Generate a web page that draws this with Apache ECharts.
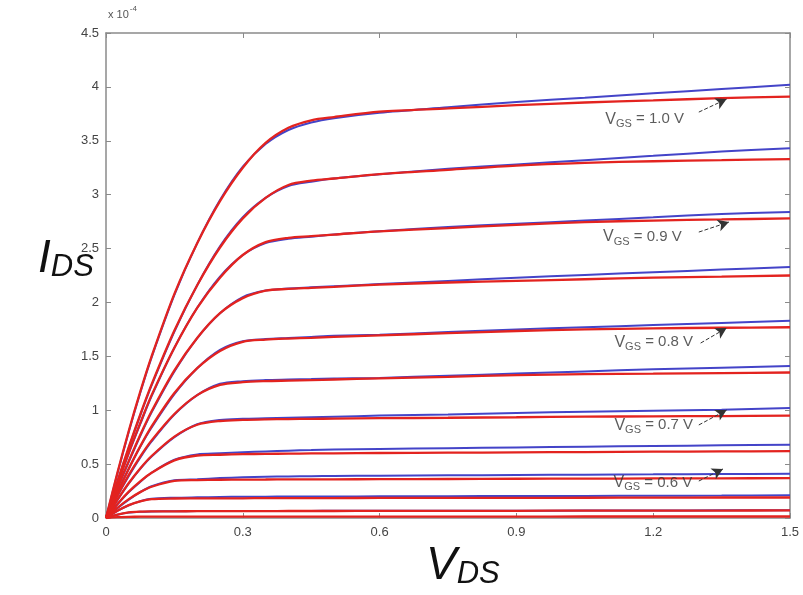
<!DOCTYPE html>
<html>
<head>
<meta charset="utf-8">
<script src="https://cdn.jsdelivr.net/npm/echarts@6/dist/echarts.min.js"></script>
<style>
  html, body { margin: 0; padding: 0; background: #fff; }
  #chart { width: 803px; height: 595px; }
</style>
</head>
<body>
<div id="chart"></div>
<script>
// V_DS sample points (V)
const vds = [0, 0.025, 0.05, 0.075, 0.1, 0.15, 0.2, 0.25, 0.3, 0.35, 0.4, 0.45, 0.5, 0.6, 0.75, 0.9, 1.05, 1.2, 1.35, 1.5]

// model curves (red), I_DS in units of 1e-4 A, top curve first
const sim1 = [0, 0.42, 0.81, 1.17, 1.50, 2.08, 2.55, 2.94, 3.25, 3.48, 3.62, 3.69, 3.72, 3.77, 3.80, 3.83, 3.855, 3.875, 3.895, 3.91]
const sim2 = [0, 0.34, 0.66, 0.96, 1.24, 1.74, 2.16, 2.51, 2.78, 2.97, 3.09, 3.13, 3.15, 3.19, 3.23, 3.27, 3.295, 3.31, 3.32, 3.33]
const sim3 = [0, 0.315, 0.61, 0.88, 1.14, 1.58, 1.95, 2.23, 2.44, 2.56, 2.60, 2.615, 2.63, 2.66, 2.69, 2.72, 2.745, 2.76, 2.77, 2.78]
const sim4 = [0, 0.28, 0.53, 0.77, 0.99, 1.37, 1.67, 1.90, 2.04, 2.11, 2.125, 2.135, 2.145, 2.165, 2.185, 2.20, 2.215, 2.23, 2.24, 2.25]
const sim5 = [0, 0.24, 0.46, 0.665, 0.85, 1.16, 1.39, 1.55, 1.635, 1.655, 1.665, 1.672, 1.68, 1.695, 1.715, 1.735, 1.75, 1.76, 1.765, 1.77]
const sim6 = [0, 0.21, 0.40, 0.57, 0.72, 0.965, 1.14, 1.235, 1.26, 1.27, 1.275, 1.28, 1.285, 1.295, 1.31, 1.325, 1.335, 1.34, 1.345, 1.35]
const sim7 = [0, 0.17, 0.325, 0.46, 0.575, 0.755, 0.865, 0.90, 0.91, 0.915, 0.918, 0.92, 0.922, 0.926, 0.93, 0.935, 0.94, 0.943, 0.946, 0.95]
const sim8 = [0, 0.13, 0.245, 0.34, 0.42, 0.535, 0.58, 0.587, 0.592, 0.595, 0.597, 0.599, 0.60, 0.603, 0.606, 0.609, 0.612, 0.615, 0.618, 0.62]
const sim9 = [0, 0.095, 0.175, 0.24, 0.29, 0.345, 0.352, 0.355, 0.356, 0.357, 0.358, 0.358, 0.359, 0.36, 0.362, 0.364, 0.365, 0.367, 0.368, 0.37]
const sim10 = [0, 0.067, 0.12, 0.155, 0.175, 0.181, 0.182, 0.183, 0.183, 0.184, 0.184, 0.185, 0.185, 0.186, 0.187, 0.187, 0.188, 0.189, 0.19, 0.19]
const sim11 = [0, 0.032, 0.052, 0.059, 0.061, 0.062, 0.063, 0.063, 0.064, 0.064, 0.065, 0.065, 0.065, 0.066, 0.066, 0.067, 0.068, 0.068, 0.069, 0.07]
const sim12 = [0, 0.008, 0.011, 0.012, 0.012, 0.012, 0.012, 0.012, 0.012, 0.012, 0.013, 0.013, 0.013, 0.013, 0.013, 0.013, 0.014, 0.014, 0.014, 0.014]

// measured curves (blue)
const meas1 = [0, 0.41, 0.80, 1.16, 1.49, 2.07, 2.55, 2.95, 3.26, 3.47, 3.60, 3.67, 3.71, 3.76, 3.81, 3.86, 3.90, 3.94, 3.98, 4.02]
const meas2 = [0, 0.33, 0.65, 0.95, 1.23, 1.73, 2.16, 2.52, 2.79, 2.97, 3.08, 3.12, 3.15, 3.19, 3.24, 3.28, 3.32, 3.36, 3.40, 3.43]
const meas3 = [0, 0.31, 0.60, 0.87, 1.13, 1.58, 1.95, 2.24, 2.44, 2.55, 2.59, 2.61, 2.63, 2.66, 2.70, 2.73, 2.76, 2.79, 2.82, 2.84]
const meas4 = [0, 0.27, 0.52, 0.76, 0.98, 1.36, 1.67, 1.90, 2.05, 2.11, 2.13, 2.14, 2.15, 2.17, 2.20, 2.23, 2.255, 2.28, 2.305, 2.33]
const meas5 = [0, 0.235, 0.455, 0.66, 0.84, 1.15, 1.39, 1.56, 1.64, 1.66, 1.67, 1.68, 1.69, 1.70, 1.725, 1.75, 1.77, 1.79, 1.81, 1.83]
const meas6 = [0, 0.205, 0.39, 0.56, 0.71, 0.96, 1.14, 1.245, 1.27, 1.28, 1.285, 1.29, 1.295, 1.30, 1.32, 1.34, 1.36, 1.38, 1.395, 1.41]
const meas7 = [0, 0.165, 0.32, 0.455, 0.57, 0.75, 0.87, 0.91, 0.92, 0.925, 0.93, 0.935, 0.94, 0.95, 0.96, 0.975, 0.985, 0.995, 1.005, 1.02]
const meas8 = [0, 0.125, 0.24, 0.335, 0.42, 0.54, 0.59, 0.60, 0.61, 0.618, 0.625, 0.63, 0.635, 0.64, 0.648, 0.655, 0.662, 0.668, 0.674, 0.68]
const meas9 = [0, 0.09, 0.17, 0.24, 0.295, 0.35, 0.36, 0.37, 0.378, 0.383, 0.386, 0.388, 0.39, 0.393, 0.396, 0.399, 0.402, 0.405, 0.408, 0.41]
const meas10 = [0, 0.065, 0.118, 0.155, 0.178, 0.188, 0.192, 0.195, 0.197, 0.198, 0.199, 0.2, 0.2, 0.201, 0.202, 0.204, 0.205, 0.207, 0.208, 0.21]
const meas11 = [0, 0.03, 0.05, 0.058, 0.061, 0.063, 0.064, 0.065, 0.065, 0.066, 0.066, 0.066, 0.067, 0.067, 0.068, 0.068, 0.069, 0.07, 0.071, 0.072]

const simCurves = [sim1, sim2, sim3, sim4, sim5, sim6, sim7, sim8, sim9, sim10, sim11, sim12]
const measCurves = [meas1, meas2, meas3, meas4, meas5, meas6, meas7, meas8, meas9, meas10, meas11]

// V_GS annotations: label anchor, arrow tail, arrow head (data coords)
const vgsValues = ['1.0', '0.9', '0.8', '0.7', '0.6']
const labelAt = [[1.095, 3.70], [1.09, 2.61], [1.115, 1.63], [1.115, 0.86], [1.113, 0.33]]
const arrowFrom = [[1.30, 3.766], [1.30, 2.653], [1.304, 1.623], [1.30, 0.863], [1.30, 0.343]]
const arrowTo = [[1.361, 3.887], [1.366, 2.746], [1.361, 1.763], [1.361, 1.002], [1.353, 0.455]]

const myChart = echarts.init(document.getElementById('chart'))

const toPairs = ys => vds.map((v, i) => [v, ys[i]])

const series = []
measCurves.forEach(ys => {
  series.push({
    type: 'line', data: toPairs(ys), smooth: 0.3, showSymbol: false, silent: true, z: 2,
    lineStyle: { color: '#4444c8', width: 2 }
  })
})
simCurves.forEach(ys => {
  series.push({
    type: 'line', data: toPairs(ys), smooth: 0.3, showSymbol: false, silent: true, z: 3,
    lineStyle: { color: '#e3231f', width: 2.3 }
  })
})

// labels + dashed arrows
series.push({
  type: 'scatter',
  symbolSize: 0,
  silent: true,
  z: 5,
  data: labelAt.map((p, i) => ({
    value: p,
    label: { formatter: '{v|V}{s|GS}{t| = ' + vgsValues[i] + ' V}' }
  })),
  label: {
    show: true, position: 'right', distance: 0,
    rich: {
      v: { fontSize: 16, color: '#333', fontFamily: 'Liberation Sans' },
      s: { fontSize: 11, color: '#333', fontFamily: 'Liberation Sans', padding: [10, 0, 0, 0] },
      t: { fontSize: 15, color: '#333', fontFamily: 'Liberation Sans' }
    }
  },
  markLine: {
    silent: true,
    symbol: ['none', 'arrow'],
    symbolSize: [9, 11],
    label: { show: false },
    lineStyle: { type: 'dashed', color: '#333', width: 1 },
    data: arrowFrom.map((p, i) => [{ coord: p }, { coord: arrowTo[i] }])
  }
})

const axisLineStyle = { color: '#8a8a8a', width: 1.5 }

const option = {
  animation: false,
  backgroundColor: '#fff',
  grid: { left: 106, right: 13, top: 33, bottom: 77, containLabel: false },
  xAxis: [
    {
      type: 'value', min: 0, max: 1.5, interval: 0.3,
      axisLine: { show: true, onZero: false, lineStyle: axisLineStyle },
      axisTick: { show: true, inside: true, length: 5, lineStyle: { color: '#8a8a8a' } },
      axisLabel: { color: '#444', fontSize: 13, margin: 8, fontFamily: 'Liberation Sans' },
      splitLine: { show: false }
    },
    {
      type: 'value', position: 'top', min: 0, max: 1.5, interval: 0.3,
      axisLine: { show: true, onZero: false, lineStyle: axisLineStyle },
      axisTick: { show: true, inside: true, length: 5, lineStyle: { color: '#8a8a8a' } },
      axisLabel: { show: false },
      splitLine: { show: false }
    }
  ],
  yAxis: [
    {
      type: 'value', min: 0, max: 4.5, interval: 0.5,
      axisLine: { show: true, onZero: false, lineStyle: axisLineStyle },
      axisTick: { show: true, inside: true, length: 5, lineStyle: { color: '#8a8a8a' } },
      axisLabel: { color: '#444', fontSize: 13, margin: 7, fontFamily: 'Liberation Sans' },
      splitLine: { show: false }
    },
    {
      type: 'value', position: 'right', min: 0, max: 4.5, interval: 0.5,
      axisLine: { show: true, onZero: false, lineStyle: axisLineStyle },
      axisTick: { show: true, inside: true, length: 5, lineStyle: { color: '#8a8a8a' } },
      axisLabel: { show: false },
      splitLine: { show: false }
    }
  ],
  graphic: [
    {
      type: 'text', left: 108, top: 5,
      style: {
        text: '{a|x 10}{b|-4}',
        rich: {
          a: { fontSize: 11, fill: '#555', fontFamily: 'Liberation Sans', padding: [6, 0, 0, 0] },
          b: { fontSize: 8, fill: '#555', fontFamily: 'Liberation Sans', padding: [0, 0, 6, 1] }
        }
      }
    },
    {
      type: 'text', left: 38, top: 236,
      style: {
        text: '{a|I}{b|DS}',
        rich: {
          a: { fontSize: 46, fontStyle: 'italic', fill: '#111', fontFamily: 'Liberation Sans' },
          b: { fontSize: 31, fontStyle: 'italic', fill: '#111', fontFamily: 'Liberation Sans', padding: [16, 0, 0, 0] }
        }
      }
    },
    {
      type: 'text', left: 426, top: 543,
      style: {
        text: '{a|V}{b|DS}',
        rich: {
          a: { fontSize: 46, fontStyle: 'italic', fill: '#111', fontFamily: 'Liberation Sans' },
          b: { fontSize: 31, fontStyle: 'italic', fill: '#111', fontFamily: 'Liberation Sans', padding: [16, 0, 0, 0] }
        }
      }
    }
  ],
  series: series
}

myChart.setOption(option)
</script>
</body>
</html>
